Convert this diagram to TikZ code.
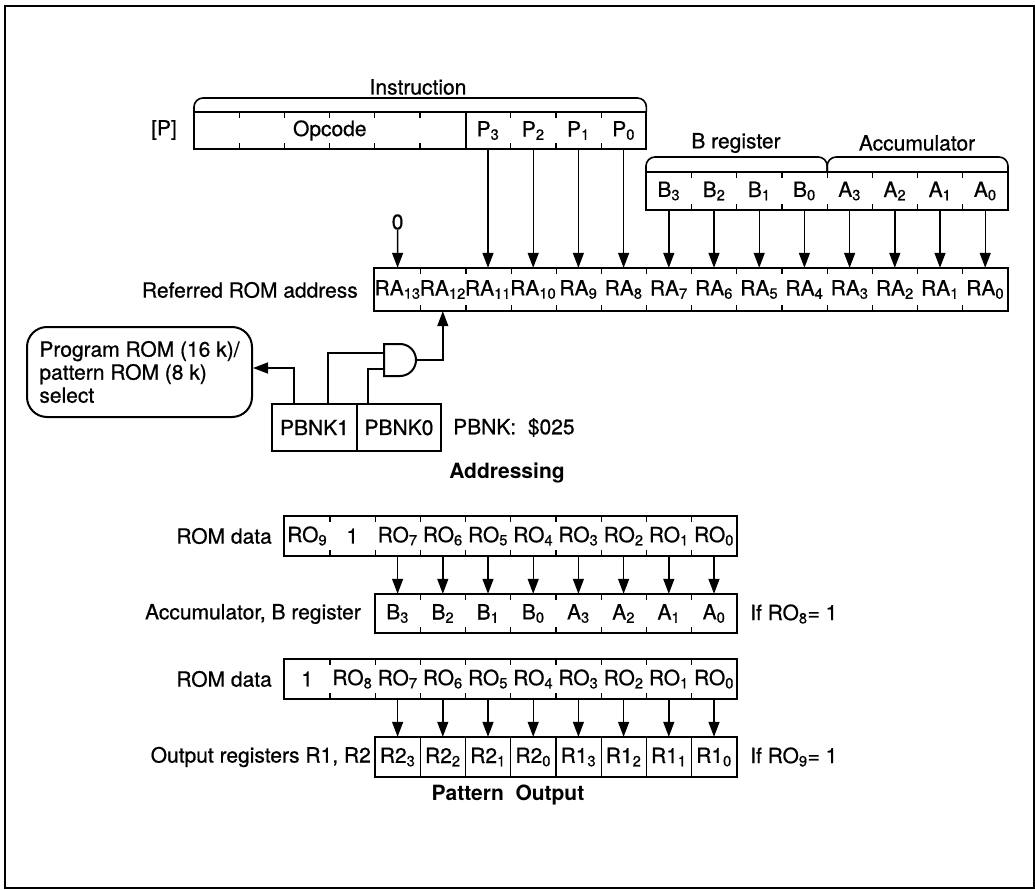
\documentclass[tikz,border=0pt]{standalone}
\usepackage{fontspec}
\setmainfont{TeX Gyre Heros}[UprightFeatures={FakeBold=0.7}]
\usetikzlibrary{arrows.meta}
\newcommand{\subidx}[1]{\textsubscript{#1}}

\begin{document}
\begin{tikzpicture}[x=1pt,y=-1pt,>={Triangle[length=15pt,width=11pt]},
  font=\fontsize{21}{23}\selectfont,
  cell/.style={rectangle,inner sep=0pt,minimum width=45.2pt,minimum height=#1},
  txt/.style={inner sep=0pt},
  regbox/.style={line width=2pt},
  tickline/.style={line width=1.3pt},
  groupline/.style={line width=1.6pt,rounded corners=9pt},
  conn/.style={line width=1.4pt}]

\useasboundingbox (0,0) rectangle (1035,890);
\draw [line width=2pt] (5,6) rectangle (1034,888);

% instruction
\node [cell=37pt,minimum width=271.2pt] (opc) at (329.8,130.5) {Opcode};
\foreach \n [evaluate=\n as \k using int(5-\n)] in {3,2,1,0}
  \node [cell=37pt] (p\n) at ({375+(\k+0.5)*45.2},130.5) {P\subidx{\n}};
\draw [regbox] (opc.north west) rectangle (p0.south east);
\draw [regbox] (opc.north east) -- (opc.south east);
\foreach \j in {1,...,5} {
  \draw [tickline] ([xshift=\j*45.2pt]opc.north west) -- ++(0,6);
  \draw [tickline] ([xshift=\j*45.2pt]opc.south west) -- ++(0,-6);
}
\foreach \n in {3,2,1} {
  \draw [tickline] (p\n.north east) -- ++(0,6);
  \draw [tickline] (p\n.south east) -- ++(0,-6);
}
\node [txt] (preg) at (164,130) {[P]};
\node [txt] (instr) at (418,87) {Instruction};
\draw [groupline] (opc.north west) |- (418,98) -| (p0.north east);

% B register / accumulator
\foreach \t [count=\i from 0] in {B\subidx{3},B\subidx{2},B\subidx{1},B\subidx{0},A\subidx{3},A\subidx{2},A\subidx{1},A\subidx{0}} {
  \pgfmathtruncatemacro\n{7-\i}
  \node [cell=38pt] (ba\n) at ({375+(\i+6.5)*45.2},191) {\t};
}
\draw [regbox] (ba7.north west) rectangle (ba0.south east);
\foreach \n in {7,...,1} {
  \draw [tickline] (ba\n.north east) -- ++(0,6);
  \draw [tickline] (ba\n.south east) -- ++(0,-6);
}
\node [txt] (breg) at (736,143) {B register};
\node [txt] (accu) at (917,143) {Accumulator};
\draw [groupline] (ba7.north west) |- (736,157) -| (ba4.north east);
\draw [groupline] (ba4.north east) |- (917,157) -| (ba0.north east);

% referred ROM address
\foreach \i in {0,...,13} {
  \pgfmathtruncatemacro\n{13-\i}
  \node [cell=43pt] (ra\n) at ({375+(\i+0.5)*45.2},289.5) {RA\subidx{\n}};
}
\draw [regbox] (ra13.north west) rectangle (ra0.south east);
\foreach \n in {13,...,1} {
  \draw [tickline] (ra\n.north east) -- ++(0,6);
  \draw [tickline] (ra\n.south east) -- ++(0,-6);
}
\node [txt,anchor=east] (ralabel) at (358,290) {Referred ROM address};
\node [txt] (zero) at (397.6,222) {0};
\draw [conn,->] (zero) -- (ra13);
\foreach \n [evaluate=\n as \m using int(\n+8)] in {0,...,3}
  \draw [conn,->] (p\n) -- (ra\m);
\foreach \n in {0,...,7}
  \draw [conn,->] (ba\n) -- (ra\n);

% bank select
\node [draw,regbox,minimum width=85pt,minimum height=47pt,inner sep=0pt,outer sep=0pt] (pbnk1) at (314.5,427.5) {PBNK1};
\node [draw,regbox,minimum width=84pt,minimum height=47pt,inner sep=0pt,outer sep=0pt,anchor=west] (pbnk0) at (pbnk1.east) {PBNK0};
\node [txt,anchor=west] (pbnkaddr) at (453,427.5) {PBNK:\ \ \$025};
\node [txt,font=\fontsize{21}{23}\selectfont\bfseries] (addr) at (507,473) {Addressing};
\node [draw,regbox,rounded corners=20pt,minimum width=225pt,minimum height=90pt,align=left,inner sep=0pt] (prog) at (139.5,372) {Program ROM (16 k)/\\pattern ROM (8 k)\\select\hspace*{\fill}};

\draw [regbox] (384,344) -- (400,344) arc [start angle=-90,end angle=90,radius=16] -- (384,376) -- cycle;
\coordinate (gin1) at (384,353);
\coordinate (gin2) at (384,369);
\coordinate (gout) at (416,360);
\draw [conn] ([xshift=13.5pt]pbnk1.north) |- (gin1);
\draw [conn] ([xshift=-31pt]pbnk0.north) |- (gin2);
\draw [conn,->] (gout) -| (ra12.south);
\draw [conn,->] ([xshift=-20.5pt]pbnk1.north) |- ([yshift=4pt]prog.east);

% ROM data -> accumulator, B register
\foreach \t [count=\i from 0] in {RO\subidx{9},1,RO\subidx{7},RO\subidx{6},RO\subidx{5},RO\subidx{4},RO\subidx{3},RO\subidx{2},RO\subidx{1},RO\subidx{0}} {
  \pgfmathtruncatemacro\n{9-\i}
  \node [cell=40pt] (roma\n) at ({375+(\i-1.5)*45.2},536) {\t};
}
\draw [regbox] (roma9.north west) rectangle (roma0.south east);
\foreach \n in {9,...,1} {
  \draw [tickline] (roma\n.north east) -- ++(0,6);
  \draw [tickline] (roma\n.south east) -- ++(0,-6);
}
\foreach \t [count=\i from 0] in {B\subidx{3},B\subidx{2},B\subidx{1},B\subidx{0},A\subidx{3},A\subidx{2},A\subidx{1},A\subidx{0}} {
  \pgfmathtruncatemacro\n{7-\i}
  \node [cell=39pt] (acc\n) at ({375+(\i+0.5)*45.2},613.5) {\t};
}
\draw [regbox] (acc7.north west) rectangle (acc0.south east);
\foreach \n in {7,...,1} {
  \draw [tickline] (acc\n.north east) -- ++(0,6);
  \draw [tickline] (acc\n.south east) -- ++(0,-6);
}
\foreach \n in {0,...,7}
  \draw [conn,->] (roma\n) -- (acc\n);
\node [txt,anchor=east] (romalabel) at (272,536) {ROM data};
\node [txt,anchor=east] (acclabel) at (361,614) {Accumulator, B register};
\node [txt,anchor=west] (ifa) at (750,614) {If RO\subidx{8}= 1};

% ROM data -> output registers
\foreach \t [count=\i from 0] in {1,RO\subidx{8},RO\subidx{7},RO\subidx{6},RO\subidx{5},RO\subidx{4},RO\subidx{3},RO\subidx{2},RO\subidx{1},RO\subidx{0}} {
  \pgfmathtruncatemacro\n{9-\i}
  \node [cell=40pt] (romb\n) at ({375+(\i-1.5)*45.2},679) {\t};
}
\draw [regbox] (romb9.north west) rectangle (romb0.south east);
\foreach \n in {9,...,1} {
  \draw [tickline] (romb\n.north east) -- ++(0,6);
  \draw [tickline] (romb\n.south east) -- ++(0,-6);
}
\foreach \t [count=\i from 0] in {R2\subidx{3},R2\subidx{2},R2\subidx{1},R2\subidx{0},R1\subidx{3},R1\subidx{2},R1\subidx{1},R1\subidx{0}} {
  \pgfmathtruncatemacro\n{7-\i}
  \node [cell=40pt] (out\n) at ({375+(\i+0.5)*45.2},757) {\t};
}
\draw [regbox] (out7.north west) rectangle (out0.south east);
\foreach \n in {7,...,1}
  \draw [tickline] (out\n.north east) -- (out\n.south east);
\foreach \n in {0,...,7}
  \draw [conn,->] (romb\n) -- (out\n);
\node [txt,anchor=east] (romblabel) at (272,679) {ROM data};
\node [txt,anchor=east] (outlabel) at (371,757) {Output registers R1, R2};
\node [txt,anchor=west] (ifb) at (750,757) {If RO\subidx{9}= 1};
\node [txt,font=\fontsize{21}{23}\selectfont\bfseries] (patt) at (508,795) {Pattern~~Output};

\end{tikzpicture}
\end{document}
